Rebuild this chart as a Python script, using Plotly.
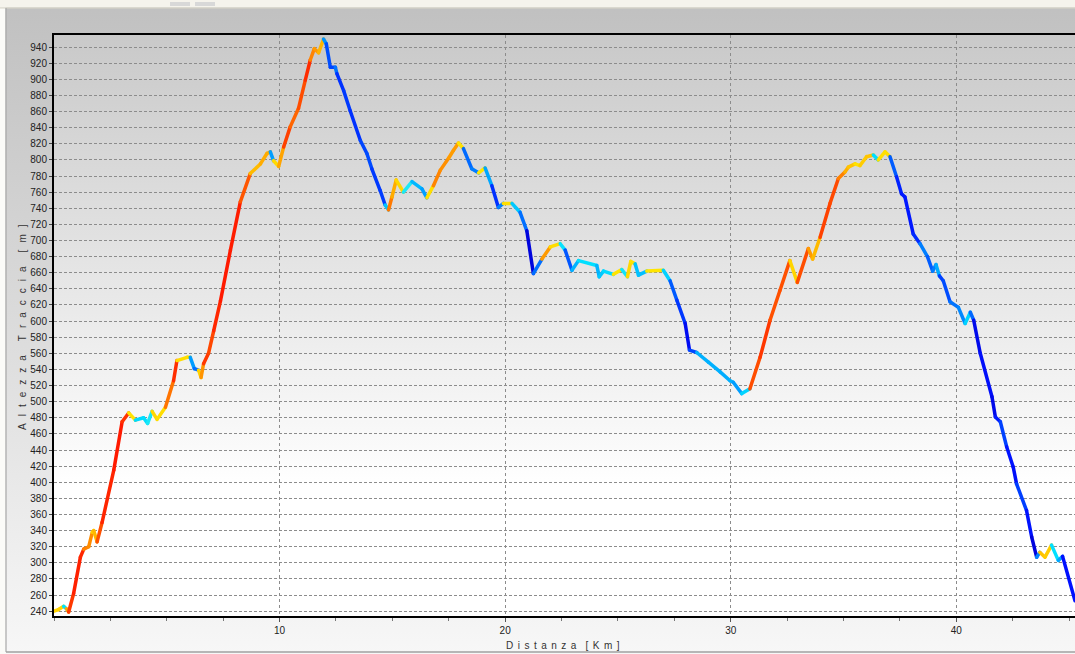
import plotly.graph_objects as go
from plotly.colors import sample_colorscale
from urllib.parse import quote

# ---- data ----
distance_km = [
    0.00, 0.20, 0.43, 0.55, 0.65, 0.87, 1.17, 1.32, 1.54, 1.70, 1.76, 1.91, 2.13, 2.65, 3.02,
    3.31, 3.61, 3.97, 4.15, 4.35, 4.57, 4.94, 5.30, 5.45, 5.90, 6.04, 6.22, 6.41, 6.52, 6.63,
    6.85, 7.08, 7.38, 7.82, 8.26, 8.70, 9.15, 9.44, 9.59, 9.73, 9.96, 10.18, 10.47, 10.84, 11.14,
    11.36, 11.54, 11.73, 11.95, 12.07, 12.25, 12.47, 12.54, 12.84, 13.13, 13.58, 13.87, 14.09, 14.46,
    14.68, 14.83, 14.98, 15.17, 15.49, 15.87, 16.31, 16.53, 16.82, 17.12, 17.49, 17.71, 17.93, 18.15,
    18.52, 18.82, 19.11, 19.41, 19.70, 19.92, 20.30, 20.66, 20.96, 21.25, 21.63, 22.00, 22.44, 22.66,
    22.96, 23.25, 24.06, 24.17, 24.36, 24.80, 25.17, 25.42, 25.57, 25.76, 25.91, 26.28, 27.01, 27.31,
    27.61, 27.98, 28.17, 28.49, 29.01, 29.53, 29.97, 30.11, 30.49, 30.85, 31.30, 31.74, 32.18, 32.62,
    32.95, 33.44, 33.63, 33.96, 34.40, 34.77, 35.06, 35.21, 35.51, 35.73, 36.02, 36.32, 36.54, 36.84,
    37.06, 37.35, 37.57, 37.72, 38.09, 38.39, 38.72, 38.95, 39.10, 39.25, 39.42, 39.72, 40.09, 40.39,
    40.62, 40.77, 41.06, 41.58, 41.73, 41.95, 42.23, 42.52, 42.67, 43.11, 43.34, 43.56, 43.70, 43.93,
    44.22, 44.52, 44.71, 45.26,
]
altitude_m = [
    240, 242, 246, 243, 239, 262, 307, 317, 320, 338, 340, 326, 350, 415, 475,
    486, 477, 480, 473, 488, 478, 493, 526, 551, 555, 555, 541, 539, 530, 547,
    560, 588, 625, 688, 748, 783, 795, 808, 810, 799, 792, 816, 841, 864, 899,
    924, 938, 933, 950, 944, 915, 915, 907, 886, 861, 824, 808, 789, 762,
    744, 738, 754, 775, 760, 773, 764, 753, 768, 787, 802, 812, 821, 814,
    789, 784, 790, 768, 741, 746, 746, 735, 712, 659, 677, 692, 696, 688,
    663, 675, 669, 655, 662, 658, 664, 655, 674, 671, 657, 662, 663, 650,
    626, 597, 564, 561, 549, 537, 526, 524, 510, 516, 555, 601, 638, 675,
    648, 690, 677, 704, 746, 777, 785, 791, 795, 793, 804, 806, 800, 810,
    804, 779, 758, 754, 708, 696, 680, 662, 670, 656, 650, 624, 617, 597,
    611, 601, 560, 506, 481, 475, 444, 419, 398, 365, 332, 307, 313, 307,
    322, 303, 308, 253,
]
y_ticks = list(range(240, 941, 20))
x_ticks = [10, 20, 30, 40]

LG = "\u2005\u2009"          # letter gap, x title
WG = LG + LG                 # word gap, x title
x_title = LG.join("Distanza") + WG + LG.join("[Km]")
LGY = "\u2002\u2009"         # letter gap, y title
WGY = LGY + LGY
y_title = WGY.join(LGY.join(w) for w in ["Altezza", "Traccia", "[m]"])

# slope colour scale: grade (%) -> colour
grade_stops = [-14, -10, -7, -4, -2, -0.7, -0.01, 0.01, 0.7, 2, 4, 6, 8, 11, 14]
grade_colors = ["#0000d0", "#0010ff", "#0048ff", "#0088ff", "#00b8ff", "#00e0ff", "#30eef0",
                "#ffe600", "#ffe000", "#ffc800", "#ffa000", "#ff8000", "#ff5500", "#ff3000", "#ff1a00"]
G = 14.0
slope_scale = [[(g + G) / (2 * G), c] for g, c in zip(grade_stops, grade_colors)]

W, H = 1075, 654
ML, MR, MT, MB = 54, 0, 35, 38
PW, PH = W - ML - MR, H - MT - MB

fig = go.Figure()
n = len(distance_km)
for i in range(n - 1):
    # grade over a window of at least ~0.4 km around the segment
    j0, j1 = i, i + 1
    while distance_km[j1] - distance_km[j0] < 0.4 and (j0 > 0 or j1 < n - 1):
        if j0 > 0:
            j0 -= 1
        if distance_km[j1] - distance_km[j0] < 0.4 and j1 < n - 1:
            j1 += 1
    grade = (altitude_m[j1] - altitude_m[j0]) / ((distance_km[j1] - distance_km[j0]) * 1000.0) * 100.0
    t = min(1.0, max(0.0, (grade + G) / (2 * G)))
    col = sample_colorscale(slope_scale, [t])[0]
    fig.add_trace(go.Scatter(
        x=[distance_km[i], distance_km[i + 1]], y=[altitude_m[i], altitude_m[i + 1]], mode="lines",
        line=dict(color=col, width=3.5), hoverinfo="skip", showlegend=False,
    ))


def grad_uri(c0, c1, stop1=1.0):
    svg = (
        "<svg xmlns='http://www.w3.org/2000/svg' width='10' height='100' preserveAspectRatio='none'>"
        "<defs><linearGradient id='g' x1='0' y1='0' x2='0' y2='1'>"
        f"<stop offset='0' stop-color='{c0}'/><stop offset='{stop1}' stop-color='{c1}'/>"
        f"<stop offset='1' stop-color='{c1}'/>"
        "</linearGradient></defs><rect width='10' height='100' fill='url(#g)'/></svg>"
    )
    return "data:image/svg+xml;charset=utf-8," + quote(svg)


def px(x):
    return (x - ML) / PW


def py(y):
    return (H - MB - y) / PH


images = [
    dict(source=grad_uri("#c0c0c0", "#f7f7f7"), xref="paper", yref="paper",
         x=px(0), y=py(0), sizex=W / PW, sizey=H / PH, xanchor="left", yanchor="top",
         sizing="stretch", layer="below"),
    dict(source=grad_uri("#c9c9c9", "#ffffff", 0.78), xref="paper", yref="paper",
         x=0, y=1, sizex=1, sizey=1, xanchor="left", yanchor="top",
         sizing="stretch", layer="below"),
]

shapes = [
    dict(type="rect", xref="paper", yref="paper", x0=px(0), x1=px(W), y0=py(0), y1=py(7.5),
         fillcolor="#f5f3ec", line=dict(width=0), layer="below"),
    dict(type="rect", xref="paper", yref="paper", x0=px(0), x1=px(5.5), y0=py(7.5), y1=py(H),
         fillcolor="#fbfbf8", line=dict(width=0), layer="below"),
    dict(type="line", xref="paper", yref="paper", x0=px(0), x1=px(W), y0=py(8), y1=py(8),
         line=dict(color="#d9d5c8", width=1.2), layer="below"),
    dict(type="rect", xref="paper", yref="paper", x0=px(170), x1=px(190), y0=py(2), y1=py(6),
         fillcolor="#d8d8d8", line=dict(width=0), layer="below"),
    dict(type="rect", xref="paper", yref="paper", x0=px(195), x1=px(215), y0=py(2), y1=py(6),
         fillcolor="#d8d8d8", line=dict(width=0), layer="below"),
    dict(type="line", xref="paper", yref="paper", x0=px(6), x1=px(6), y0=py(8), y1=py(652),
         line=dict(color="#a8a8a8", width=1.2), layer="below"),
    dict(type="line", xref="paper", yref="paper", x0=px(6), x1=px(W), y0=py(652), y1=py(652),
         line=dict(color="#a0a0a0", width=1.5), layer="below"),
]

annotations = [
    dict(text=x_title, xref="paper", yref="paper", x=px(563), y=py(645), showarrow=False,
         font=dict(family="Liberation Sans, Arial", size=10, color="#333333"),
         xanchor="center", yanchor="middle"),
    dict(text=y_title, xref="paper", yref="paper", x=px(22), y=py(327), showarrow=False,
         textangle=-90, font=dict(family="Liberation Sans, Arial", size=10, color="#333333"),
         xanchor="center", yanchor="middle"),
]

fig.update_layout(
    width=W, height=H,
    margin=dict(l=ML, r=MR, t=MT, b=MB, pad=0),
    paper_bgcolor="#ffffff", plot_bgcolor="rgba(0,0,0,0)",
    images=images, shapes=shapes, annotations=annotations,
    showlegend=False,
    font=dict(family="Liberation Sans, Arial", size=10, color="#222222"),
    xaxis=dict(
        range=[0, 45.26], tickvals=x_ticks, ticktext=[str(v) for v in x_ticks],
        ticks="outside", ticklen=4, tickcolor="#555555",
        minor=dict(dtick=2.5, tick0=0, ticks="outside", ticklen=3, tickcolor="#777777", showgrid=False),
        showgrid=True, gridcolor="#8c8c8c", griddash="3px,3px", gridwidth=1,
        showline=True, linecolor="#000000", linewidth=2, mirror=True,
        zeroline=False, tickfont=dict(size=10, color="#222222"),
    ),
    yaxis=dict(
        range=[234, 955], tickvals=y_ticks, ticks="outside", ticklen=3, tickcolor="#444444",
        showgrid=True, gridcolor="#8c8c8c", griddash="3px,2px", gridwidth=1,
        showline=True, linecolor="#000000", linewidth=2, mirror=False,
        zeroline=False, tickfont=dict(size=10, color="#222222"),
    ),
)

post = (
    "document.body.style.margin='0';document.body.style.overflow='hidden';"
    "var s=document.createElement('style');"
    "s.textContent='.js-line{stroke-linecap:round;stroke-linejoin:round}';"
    "document.head.appendChild(s);"
)
fig.write_html("out.html", post_script=post, config={"displayModeBar": False})
